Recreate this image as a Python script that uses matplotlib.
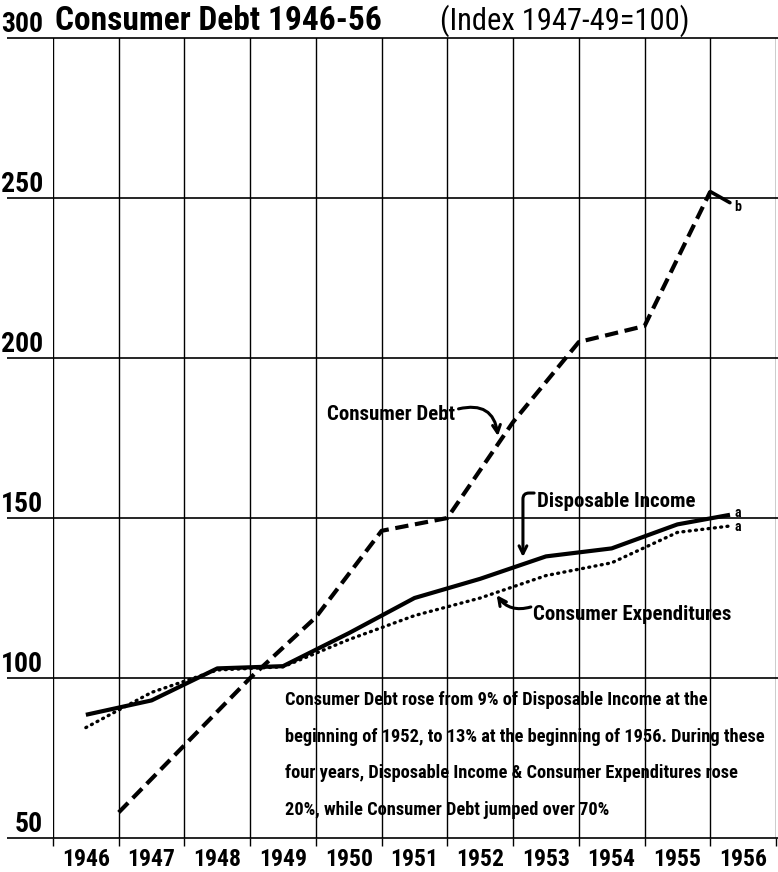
import matplotlib
matplotlib.use("Agg")
import matplotlib.pyplot as plt
from matplotlib import font_manager as fm

# ---------------- data ----------------
year_labels = ["1946", "1947", "1948", "1949", "1950", "1951",
               "1952", "1953", "1954", "1955", "1956"]
label_pos = [1946.5, 1947.5, 1948.5, 1949.5, 1950.5, 1951.5,
             1952.5, 1953.5, 1954.5, 1955.5, 1956.5]
year_bounds = [1946, 1947, 1948, 1949, 1950, 1951, 1952,
               1953, 1954, 1955, 1956, 1957]

# annual series plotted at mid-year (1956 partial)
income_x = [1946.5, 1947.5, 1948.5, 1949.5, 1950.5, 1951.5,
            1952.5, 1953.5, 1954.5, 1955.5, 1956.3]
disposable_income = [88.5, 93, 103, 103.7, 114, 125, 131, 138, 140.5, 148, 151]
consumer_expenditures = [84.5, 95.5, 102.5, 103.5, 112, 119.5, 125, 132, 136, 145.5, 147.5]

# consumer debt at year end (end of 1946 ... end of 1955)
debt_x = [1947, 1948, 1949, 1950, 1951, 1952, 1953, 1954, 1955, 1956]
consumer_debt = [58, 79, 100, 119, 146, 150, 180, 205, 210, 252]

y_levels = [50, 100, 150, 200, 250, 300]
y_labels = ["50", "100", "150", "200", "250", "300"]

title_main = "Consumer Debt 1946-56"
title_sub = "(Index 1947-49=100)"
note_lines = [
    "Consumer Debt rose from 9% of Disposable Income at the",
    "beginning of 1952, to 13% at the beginning of 1956. During these",
    "four years, Disposable Income & Consumer Expenditures rose",
    "20%, while Consumer Debt jumped over 70%",
]

# ---------------- fonts ----------------
avail = {f.name for f in fm.fontManager.ttflist}
FONT = "DejaVu Sans"
for cand in ["Liberation Sans Narrow", "Roboto Condensed", "Open Sans Condensed",
             "Noto Sans Condensed", "DejaVu Sans Condensed", "DejaVu Sans"]:
    if cand in avail:
        FONT = cand
        break
plt.rcParams["font.family"] = [FONT, "DejaVu Sans"]
plt.rcParams["font.weight"] = "bold"

W, H = 778, 872
fig = plt.figure(figsize=(W / 100, H / 100), dpi=100)
L, R, T, B = 53, 776, 38, 838
ax = fig.add_axes([L / W, 1 - B / H, (R - L) / W, (B - T) / H])
ax.set_xlim(1946, 1957)
ax.set_ylim(50, 300)
for s in ax.spines.values():
    s.set_visible(False)

# vertical grid lines at year boundaries (with small tick stubs below)
ax.set_xticks(year_bounds)
ax.set_xticklabels([])
ax.set_xticks(label_pos, minor=True)
ax.set_xticklabels(year_labels, minor=True, fontsize=17, fontweight="bold")
ax.tick_params(axis="x", which="major", direction="out", length=6, width=1.0, color="black")
ax.tick_params(axis="x", which="minor", length=0, pad=7)
ax.grid(axis="x", which="major", color="black", lw=1.0)

# horizontal lines extending left beyond the frame
ax.hlines(y_levels, -0.064, 1.004, transform=ax.get_yaxis_transform(),
          colors="black", lw=1.2, clip_on=False, zorder=1)
ax.set_yticks(y_levels)
ax.set_yticklabels(y_labels, fontsize=20, fontweight="bold")
ax.tick_params(axis="y", length=0, pad=7)
plt.setp(ax.get_yticklabels(), va="bottom", fontweight="bold")

# ---------------- series ----------------
ax.plot(debt_x, consumer_debt, color="black", lw=3.0,
        linestyle=(0, (3.2, 1.6)), zorder=3)
ax.plot(income_x, disposable_income, color="black", lw=3.0,
        solid_capstyle="butt", zorder=3)
ax.plot(income_x, consumer_expenditures, color="black", lw=2.4,
        linestyle=(0, (0.3, 1.6)), dash_capstyle="round", zorder=3)

# footnote markers
ax.annotate("a", xy=(income_x[-1], disposable_income[-1]), xytext=(3, 1),
            textcoords="offset points", ha="left", va="center",
            fontsize=10, fontweight="bold")
ax.annotate("a", xy=(income_x[-1], consumer_expenditures[-1]), xytext=(3, -1),
            textcoords="offset points", ha="left", va="center",
            fontsize=10, fontweight="bold")
ax.annotate("b", xy=(debt_x[-1], consumer_debt[-1]), xytext=(17, -11),
            textcoords="offset points", ha="left", va="center",
            fontsize=10, fontweight="bold",
            arrowprops=dict(arrowstyle="-", lw=2.6, color="black",
                            shrinkA=1, shrinkB=0))

# ---------------- series labels with curved arrows ----------------
lab_fs = 15
ax.text(1950.17, 180.6, "Consumer Debt", fontsize=lab_fs, fontweight="bold",
        ha="left", va="baseline")
ax.annotate("", xy=(1952.77, 175.6), xytext=(1952.17, 184.1),
            arrowprops=dict(arrowstyle="->", lw=2.2, color="black",
                            connectionstyle="arc3,rad=-0.55",
                            shrinkA=0, shrinkB=0, mutation_scale=14))

ax.text(1953.36, 153.4, "Disposable Income", fontsize=lab_fs, fontweight="bold",
        ha="left", va="baseline")
ax.annotate("", xy=(1953.15, 137.8), xytext=(1953.32, 157.8),
            arrowprops=dict(arrowstyle="->", lw=2.2, color="black",
                            connectionstyle="angle,angleA=0,angleB=90,rad=6",
                            shrinkA=0, shrinkB=0, mutation_scale=14))

ax.text(1953.30, 118.1, "Consumer Expenditures", fontsize=lab_fs, fontweight="bold",
        ha="left", va="baseline")
ax.annotate("", xy=(1952.75, 125.9), xytext=(1953.27, 122.2),
            arrowprops=dict(arrowstyle="->", lw=2.2, color="black",
                            connectionstyle="arc3,rad=-0.35",
                            shrinkA=0, shrinkB=0, mutation_scale=14))

# ---------------- note paragraph ----------------
note_y0 = 0.166
note_step = 0.0456
for i, line in enumerate(note_lines):
    ax.text(0.321, note_y0 - i * note_step, line, transform=ax.transAxes,
            fontsize=13.2, fontweight="bold", ha="left", va="baseline", zorder=4)

# ---------------- title ----------------
fig.text(55 / W, 1 - 30 / H, title_main, fontsize=24, fontweight="bold",
         ha="left", va="baseline")
fig.text(440 / W, 1 - 30 / H, title_sub, fontsize=22, fontweight="normal",
         ha="left", va="baseline")

fig.savefig("out.png", dpi=100, facecolor="white")
